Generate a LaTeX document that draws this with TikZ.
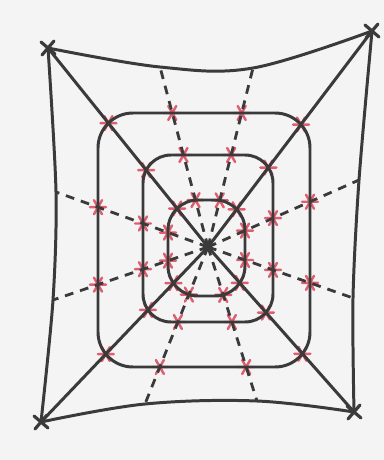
\documentclass[tikz,border=0pt]{standalone}
\usetikzlibrary{intersections}
\definecolor{ink}{HTML}{3A3A3A}
\definecolor{pinkred}{HTML}{DF5F70}
\definecolor{paper}{HTML}{F4F4F4}
\pgfdeclarelayer{under}
\pgfsetlayers{under,main}

\begin{document}
\begin{tikzpicture}[x=0.02cm,y=-0.02cm,
  edge/.style={ink,line width=1.7pt,line cap=round,line join=round},
  spoke/.style={ink,line width=1.6pt,dash pattern=on 5pt off 4pt},
  ring/.style={ink,line width=1.7pt},
  redstar/.pic={\draw[pinkred,line width=1.4pt,line cap=round]
    (-8,0)--(8,0) (-4,-7)--(4,7) (-4,7)--(4,-7);},
  cornermark/.pic={\draw[ink,line width=1.8pt,line cap=round]
    (-7,-6)--(7,6) (-6,7)--(6,-7);}]
  \begin{pgfonlayer}{under}
    \fill[paper] (0,0) rectangle (384,460);
  \end{pgfonlayer}
  % corners, centre and the ends of the dashed spokes on the frame
  \coordinate (tl) at (48,48);
  \coordinate (tr) at (372,31);
  \coordinate (bl) at (41,422);
  \coordinate (br) at (354,412);
  \coordinate (c) at (208,247);
  \coordinate (t1) at (160,67);
  \coordinate (t2) at (253,68);
  \coordinate (r1) at (359,180);
  \coordinate (r2) at (353,298);
  \coordinate (b1) at (145,404);
  \coordinate (b2) at (257,401);
  \coordinate (l1) at (56,192);
  \coordinate (l2) at (53,300);

  % the curved frame
  \draw[edge] plot[smooth,tension=0.6] coordinates {(tl) (t1) (t2) (tr)};
  \draw[edge] plot[smooth,tension=0.5] coordinates {(tr) (r1) (r2) (br)};
  \draw[edge] plot[smooth,tension=0.6] coordinates {(bl) (b1) (b2) (br)};
  \draw[edge] plot[smooth,tension=0.5] coordinates {(tl) (l1) (l2) (bl)};

  % rings
  \draw[ring,rounded corners=0.7cm,name path=ring1] (98,113) rectangle (310,367);
  \draw[ring,rounded corners=0.56cm,name path=ring2] (143,155) rectangle (273,322);
  \draw[ring,rounded corners=0.6cm,name path=ring3] (168,200) rectangle (245,296);

  % diagonals and dashed spokes
  \foreach \p in {tl,tr,br,bl}
    \draw[edge,name path global=sp-\p] (c) -- (\p);
  \foreach \p in {t1,t2,r1,r2,b1,b2,l1,l2}
    \draw[spoke,name path global=sp-\p] (c) -- (\p);

  % marks where rings cross the spokes
  \foreach \r in {1,2,3}
    \foreach \p in {tl,tr,br,bl,t1,t2,r1,r2,b1,b2,l1,l2} {
      \begin{pgfonlayer}{under}
        \path[name intersections/.expanded={of=ring\r\space and sp-\p}]
          (intersection-1) pic {redstar};
      \end{pgfonlayer}
    }
  \foreach \p in {tl,tr,br,bl}
    \pic at (\p) {cornermark};
\end{tikzpicture}
\end{document}
